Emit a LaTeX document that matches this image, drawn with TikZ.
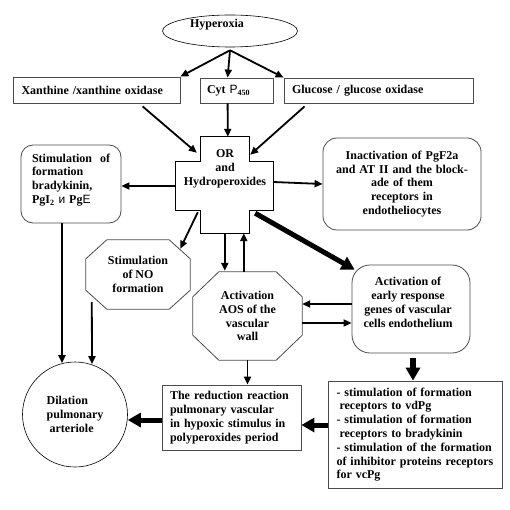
\documentclass[tikz,border=0pt]{standalone}
\usepackage{fontspec}
\setmainfont{Liberation Serif}
\newfontfamily\sansf{Liberation Sans}
\usetikzlibrary{arrows.meta,calc,shapes.geometric}
\begin{document}
\begin{tikzpicture}[x=1pt,y=-1pt,
  txt/.style={font=\fontsize{12}{13.8}\selectfont\bfseries, inner sep=0pt},
  box/.style={txt, draw=black!70, line width=0.8pt, rectangle},
  oct/.style={draw=black!70, line width=0.8pt},
  arr/.style={-{Triangle[length=8pt,width=7pt]}, line width=1.8pt},
  fat/.style={-{Triangle[length=13pt,width=14pt]}, line width=5pt}]
\useasboundingbox[fill=white] (0,0) rectangle (510,510);

% Hyperoxia
\node[draw, ellipse, line width=0.6pt, minimum width=135pt, minimum height=32pt] (hyp) at (230,31) {};
\node[txt] (hyptxt) at (217,25) {Hyperoxia};

% top boxes
\node[box, minimum width=167pt, minimum height=26pt, text width=150pt, inner xsep=8.5pt, align=left] (xan) at (96.5,90) {Xanthine /xanthine oxidase};
\node[box, minimum width=73pt, minimum height=25pt, text width=59pt, inner xsep=7pt, align=left] (cyt) at (236.5,90.5) {Cyt {\sansf\mdseries P}\textsubscript{450}};
\node[box, minimum width=189pt, minimum height=25pt, text width=173pt, inner xsep=8pt, align=left] (glu) at (378.5,90.5) {Glucose / glucose oxidase};

% cross
\node[minimum width=48pt, minimum height=96pt, inner sep=0pt] (orv) at (225,185) {};
\node[minimum width=97pt, minimum height=48pt, inner sep=0pt] (orh) at (224.5,186) {};
\draw[line width=1pt] (orv.north west) -- (orv.north east) -- (orv.east |- orh.north) -- (orh.north east) -- (orh.south east) -- (orv.east |- orh.south) -- (orv.south east) -- (orv.south west) -- (orv.west |- orh.south) -- (orh.south west) -- (orh.north west) -- (orv.west |- orh.north) -- cycle;
\node[txt, align=center] (or) at (225,169) {OR\\and\\Hydroperoxides};

% left box
\node[box, rounded corners=12pt, minimum width=100pt, minimum height=78pt] (stimb) at (71,184) {};
\node[txt, text width=78pt, align=left] (stimbtxt) at (71,180) {\makebox[78pt][s]{Stimulation\hfill of}\\formation\\bradykinin,\\PgI\textsubscript{2} {\sansf\mdseries и} Pg{\sansf\mdseries E}};

% right box
\node[box, rounded corners=14pt, minimum width=158pt, minimum height=92pt, text width=150pt, align=center] (inact) at (402,184) {Inactivation of PgF2a\\and AT II and the block-\\ade of them\\receptors in\\endotheliocytes};

% early response box
\node[box, rounded corners=18pt, minimum width=118pt, minimum height=88pt] (early) at (411,309) {};
\node[txt, align=center] (earlytxt) at (408,302.5) {Activation of\\early response\\genes of vascular\\cells endothelium};

% NO octagon
\node[txt, minimum width=104pt, minimum height=69pt, align=center] (no) at (138,274.5) {Stimulation\\of NO\\formation};
\draw[oct] ($(no.north west)+(21,0)$) -- ($(no.north east)+(-21,0)$) -- ($(no.north east)+(0,19)$) -- ($(no.south east)+(0,-19)$) -- ($(no.south east)+(-21,0)$) -- ($(no.south west)+(21,0)$) -- ($(no.south west)+(0,-19)$) -- ($(no.north west)+(0,19)$) -- cycle;

% AOS octagon
\node[txt, minimum width=109pt, minimum height=88pt, align=center] (aos) at (247.5,316) {Activation\\AOS of the\\vascular\\wall};
\draw[oct] ($(aos.north west)+(26,0)$) -- ($(aos.north east)+(-26,0)$) -- ($(aos.north east)+(0,25)$) -- ($(aos.south east)+(0,-25)$) -- ($(aos.south east)+(-26,0)$) -- ($(aos.south west)+(26,0)$) -- ($(aos.south west)+(0,-25)$) -- ($(aos.north west)+(0,25)$) -- cycle;

% reduction box
\node[box, minimum width=139pt, minimum height=65pt, text width=123pt, inner xsep=8pt, align=left] (red) at (231.5,417.5) {The reduction reaction\\pulmonary vascular\\in hypoxic stimulus in\\polyperoxides period};

% bottom right box
\node[box, minimum width=174pt, minimum height=107pt, text width=157pt, inner xsep=8.5pt, align=left] (stimr) at (415,434.5) {- stimulation of formation\\\hspace*{3pt}receptors to vdPg\\- stimulation of formation\\\hspace*{3pt}receptors to bradykinin\\- stimulation of the formation\\of inhibitor proteins receptors\\for vcPg};

% dilation circle
\node[draw, circle, line width=0.6pt, minimum size=105pt, txt, align=left] (dil) at (75,414.5) {Dilation\\pulmonary\\\hspace*{3pt}arteriole};

% arrows
\coordinate (hs) at ($(hyp.south)+(0,3)$);
\draw[arr] (hs) -- (xan.north east);
\draw[arr] (hs) -- ($(cyt.north west)+(28,0)$);
\draw[arr] (hs) -- (glu.north west);

\draw[arr] ($(xan.south west)+(130,3)$) -- ($(orv.north west)+(-4,16)$);
\draw[arr] ($(cyt.south west)+(28,0)$) -- ($(orv.north west)+(27,0)$);
\draw[arr] ($(glu.south west)+(21,3)$) -- ($(orv.north east)+(1,18)$);

\draw[arr] (orh.west) -- (orh.west -| stimb.east);
\draw[arr] ($(orh.east)+(0,-4)$) -- (inact.west);
\draw[fat] ($(orh.south east)+(-18,3)$) -- ($(early.north west)+(3,5)$);
\draw[arr] ($(orv.south west)+(-3,-21)$) -- ($(no.north east)+(-10,9)$);

\draw[arr] ($(orv.south west)+(24,0)$) -- ($(aos.north west)+(32,-1)$);
\draw[arr] ($(aos.north west)+(51,0)$) -- ($(orv.south west)+(43,0)$);

\draw[arr] ($(early.west)+(0,-5)$) -- ($(aos.east)+(0,-12)$);
\draw[arr] ($(aos.east)+(0,7)$) -- ($(early.west)+(0,14)$);

\draw[arr] (aos.south) -- (red.north -| aos.south);

\draw[fat, line width=6pt] ($(early.south)+(2,5)$) -- ($(stimr.north)+(-2,0)$);
\draw[fat] ($(stimr.west)+(0,-9.5)$) -- ($(red.east)+(0,7.5)$);
\coordinate (rd) at ($(red.west)+(0,2.5)$);
\draw[fat] (rd) -- (rd -| dil.east);

\coordinate (sb) at ($(stimb.south)+(-9,0)$);
\draw[arr] (sb) -- ($(sb |- dil.north)+(0,1.5)$);
\coordinate (nb) at ($(no.south west)+(6,-7)$);
\draw[arr] (nb) -- ($(dil.north)+(17,2.5)$);
\end{tikzpicture}
\end{document}
